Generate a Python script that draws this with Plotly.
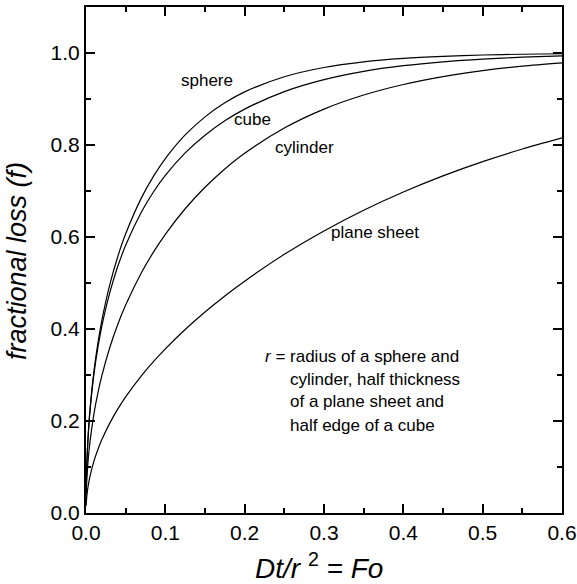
import plotly.graph_objects as go

fo = [0.0002, 0.0005, 0.001, 0.002, 0.003, 0.005, 0.01, 0.015, 0.02, 0.03, 0.04, 0.05,
      0.07, 0.085, 0.1, 0.125, 0.15, 0.175, 0.2, 0.25, 0.3, 0.35, 0.4, 0.45, 0.5, 0.55, 0.6]
sphere = [0.0473, 0.0742, 0.1040, 0.1454, 0.1764, 0.2244, 0.3085, 0.3696, 0.4187, 0.4963,
          0.5570, 0.6069, 0.6856, 0.7319, 0.7705, 0.8219, 0.8612, 0.8918, 0.9155, 0.9484,
          0.9685, 0.9808, 0.9883, 0.9928, 0.9956, 0.9973, 0.9984]
cube = [0.0472, 0.0737, 0.1033, 0.1440, 0.1742, 0.2208, 0.3017, 0.3599, 0.4065, 0.4791,
        0.5358, 0.5820, 0.6548, 0.6979, 0.7339, 0.7828, 0.8214, 0.8527, 0.8780, 0.9161,
        0.9421, 0.9601, 0.9724, 0.9809, 0.9868, 0.9909, 0.9937]
cylinder = [0.0317, 0.0500, 0.0704, 0.0989, 0.1206, 0.1545, 0.2155, 0.2611, 0.2986, 0.3599,
            0.4099, 0.4521, 0.5227, 0.5670, 0.6059, 0.6614, 0.7081, 0.7480, 0.7821, 0.8369,
            0.8780, 0.9086, 0.9316, 0.9487, 0.9616, 0.9713, 0.9785]
plane_sheet = [0.0160, 0.0252, 0.0357, 0.0505, 0.0618, 0.0798, 0.1128, 0.1382, 0.1596, 0.1954,
               0.2257, 0.2523, 0.2985, 0.3290, 0.3568, 0.3989, 0.4369, 0.4719, 0.5040, 0.5623,
               0.6132, 0.6582, 0.6979, 0.7329, 0.7639, 0.7913, 0.8155]

series = {"sphere": sphere, "cube": cube, "cylinder": cylinder, "plane sheet": plane_sheet}

curve_labels = ["sphere", "cube", "cylinder", "plane sheet"]
label_x = [0.152, 0.210, 0.275, 0.364]
label_y = [0.940, 0.856, 0.794, 0.609]

note_lines = ["<i>r</i> = radius of a sphere and", "cylinder, half thickness",
              "of a plane sheet and", "half edge of a cube"]

FONT = "Arial, Liberation Sans, sans-serif"

fig = go.Figure()
for name, vals in series.items():
    fig.add_trace(go.Scatter(x=fo, y=vals, mode="lines", name=name,
                             line=dict(color="black", width=1.2, shape="spline", smoothing=0.8),
                             showlegend=False))

annotations = []
for t, x, y in zip(curve_labels, label_x, label_y):
    annotations.append(dict(x=x, y=y, xref="x", yref="y", text=t, showarrow=False,
                            font=dict(size=17, color="black", family=FONT),
                            xanchor="center", yanchor="middle"))

# note block (pixel positions converted to paper coords)
note_px_x = [263, 288, 288, 288]
note_px_y = [356, 379, 402, 425]
for t, px, py in zip(note_lines, note_px_x, note_px_y):
    annotations.append(dict(x=(px - 86) / 476, y=(513 - py) / 506, xref="paper", yref="paper",
                            text=t, showarrow=False, xanchor="left", yanchor="middle",
                            font=dict(size=17, color="black", family=FONT)))

annotations.append(dict(x=(319 - 86) / 476, y=(513 - 566) / 506, xref="paper", yref="paper",
                        text="<i>Dt/r</i> <sup>2</sup> <i>= Fo</i>", showarrow=False,
                        xanchor="center", yanchor="middle",
                        font=dict(size=28, color="black", family=FONT)))
annotations.append(dict(x=(17 - 86) / 476, y=(513 - 261) / 506, xref="paper", yref="paper",
                        text="<i>fractional loss (f)</i>", showarrow=False, textangle=-90,
                        xanchor="center", yanchor="middle",
                        font=dict(size=27, color="black", family=FONT)))

axis_common = dict(showgrid=False, zeroline=False, showline=True, linecolor="black", linewidth=2,
                   mirror="allticks", ticks="inside", ticklen=9, tickwidth=1.5, tickcolor="black",
                   automargin=False,
                   tickfont=dict(size=21, color="black", family=FONT))

fig.update_layout(
    width=577, height=584,
    margin=dict(l=86, r=15, t=7, b=71),
    paper_bgcolor="white", plot_bgcolor="white",
    annotations=annotations,
    xaxis=dict(range=[0, 0.6], tick0=0, dtick=0.1, tickformat=".1f",
               minor=dict(dtick=0.05, ticklen=5, ticks="inside", tickcolor="black", tickwidth=1.5),
               **axis_common),
    yaxis=dict(range=[0, 1.1], tick0=0, dtick=0.2, tickformat=".1f",
               minor=dict(dtick=0.1, ticklen=5, ticks="inside", tickcolor="black", tickwidth=1.5),
               **axis_common),
)

fig.write_html("out.html")
